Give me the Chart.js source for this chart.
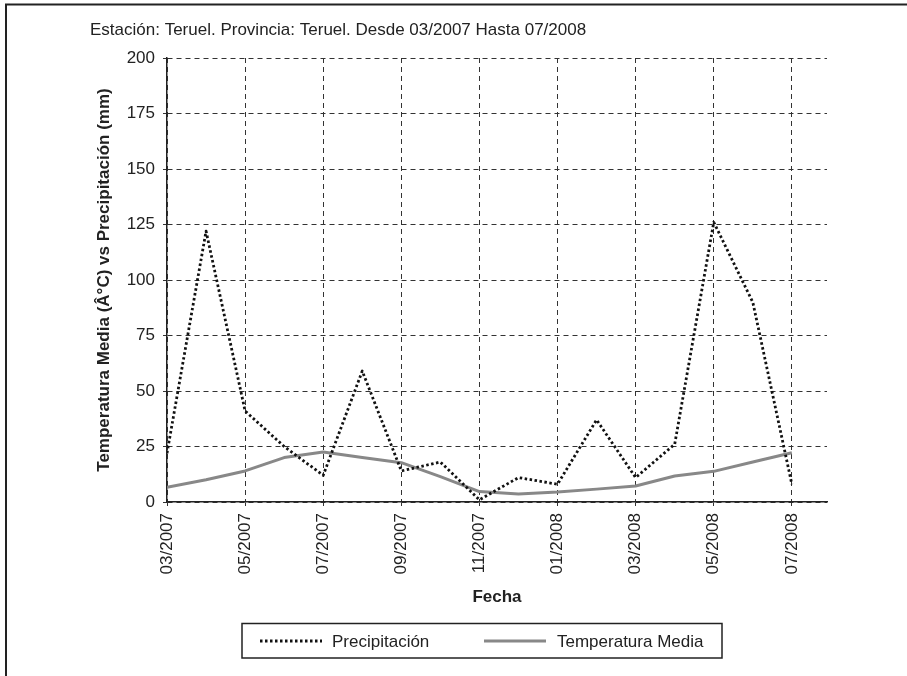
<!DOCTYPE html>
<html>
<head>
<meta charset="utf-8">
<script src="https://cdn.jsdelivr.net/npm/chart.js@4.4.0/dist/chart.umd.min.js"></script>
<style>
  body { margin: 0; background: #fff; }
  #wrap { width: 907px; height: 676px; }
</style>
</head>
<body>
<div id="wrap"><canvas id="chart" width="907" height="676"></canvas></div>
<script>
// monthly series, 03/2007 .. 07/2008
var months = ['03/2007', '04/2007', '05/2007', '06/2007', '07/2007', '08/2007', '09/2007', '10/2007',
  '11/2007', '12/2007', '01/2008', '02/2008', '03/2008', '04/2008', '05/2008', '06/2008', '07/2008']
var precipitacion = [22, 122, 41, 25, 12, 59, 14, 18, 1, 11, 8, 37, 11, 26, 126, 90, 8]
var temperatura = [6.6, 10, 14, 20, 22.5, 20, 17.7, 11.4, 4.7, 3.6, 4.5, 5.8, 7.2, 11.7, 13.8, 18, 22.2]
var yTicks = [0, 25, 50, 75, 100, 125, 150, 175, 200]

var titleText = 'Estación: Teruel. Provincia: Teruel. Desde 03/2007 Hasta 07/2008'
var font = 'Liberation Sans, Arial, sans-serif'

function toPoints (arr) {
  return arr.map(function (v, i) { return { x: i, y: v } })
}

// frame, title and boxed legend
var decor = {
  id: 'decor',
  afterDraw: function (chart) {
    var ctx = chart.ctx
    ctx.save()
    ctx.strokeStyle = '#222'
    ctx.lineWidth = 2
    ctx.beginPath()
    ctx.moveTo(6, 676)
    ctx.lineTo(6, 4.5)
    ctx.lineTo(907, 4.5)
    ctx.stroke()

    ctx.fillStyle = '#222'
    ctx.font = '17px ' + font
    ctx.textBaseline = 'middle'
    ctx.fillText(titleText, 90, 30)

    // legend
    ctx.lineWidth = 1.5
    ctx.strokeRect(242, 623.5, 480, 34.5)
    var ly = 641
    var ds = chart.data.datasets
    var items = [[260, 332], [484, 557]]
    ds.forEach(function (d, i) {
      ctx.beginPath()
      ctx.strokeStyle = d.borderColor
      ctx.lineWidth = d.borderWidth
      ctx.setLineDash(d.borderDash || [])
      ctx.moveTo(items[i][0], ly)
      ctx.lineTo(items[i][0] + 62, ly)
      ctx.stroke()
      ctx.setLineDash([])
      ctx.fillStyle = '#222'
      ctx.font = '17px ' + font
      ctx.fillText(d.label, items[i][1], ly + 1)
    })
    ctx.restore()
  }
}

new Chart(document.getElementById('chart'), {
  type: 'line',
  data: {
    datasets: [
      {
        label: 'Precipitación',
        data: toPoints(precipitacion),
        borderColor: '#111',
        borderWidth: 2.8,
        borderDash: [2.5, 2.5],
        borderJoinStyle: 'round',
        pointRadius: 0,
        tension: 0
      },
      {
        label: 'Temperatura Media',
        data: toPoints(temperatura),
        borderColor: '#888',
        borderWidth: 3,
        borderJoinStyle: 'round',
        pointRadius: 0,
        tension: 0
      }
    ]
  },
  options: {
    responsive: false,
    animation: false,
    layout: { padding: { left: 90, top: 58, right: 80, bottom: 68 } },
    plugins: {
      legend: { display: false },
      tooltip: { enabled: false }
    },
    scales: {
      x: {
        type: 'linear',
        min: 0,
        max: 16.9,
        afterFit: function (s) { s.height = 106 },
        ticks: {
          stepSize: 2,
          includeBounds: false,
          maxRotation: 90,
          minRotation: 90,
          padding: 7,
          color: '#222',
          font: { family: font, size: 17 },
          callback: function (v) { return months[v] }
        },
        grid: {
          color: '#333',
          lineWidth: 1,
          tickLength: 4,
          tickColor: '#333'
        },
        border: { display: true, color: '#222', width: 1.5, dash: [5, 4] },
        title: {
          display: true,
          text: 'Fecha',
          color: '#222',
          font: { family: font, size: 17, weight: 'bold' },
          padding: { top: 8, bottom: 0 }
        }
      },
      y: {
        min: 0,
        max: 200,
        afterFit: function (s) { s.width = 77 },
        afterBuildTicks: function (s) { s.ticks = yTicks.map(function (v) { return { value: v } }) },
        ticks: {
          padding: 8,
          color: '#222',
          font: { family: font, size: 17 }
        },
        grid: {
          color: '#333',
          lineWidth: 1,
          tickLength: 4,
          tickColor: '#333'
        },
        border: { display: true, color: '#222', width: 1.5, dash: [5, 4] },
        title: {
          display: true,
          text: 'Temperatura Media (Â°C) vs Precipitación (mm)',
          color: '#222',
          font: { family: font, size: 17, weight: 'bold' }
        }
      }
    }
  },
  plugins: [decor]
})
</script>
</body>
</html>
